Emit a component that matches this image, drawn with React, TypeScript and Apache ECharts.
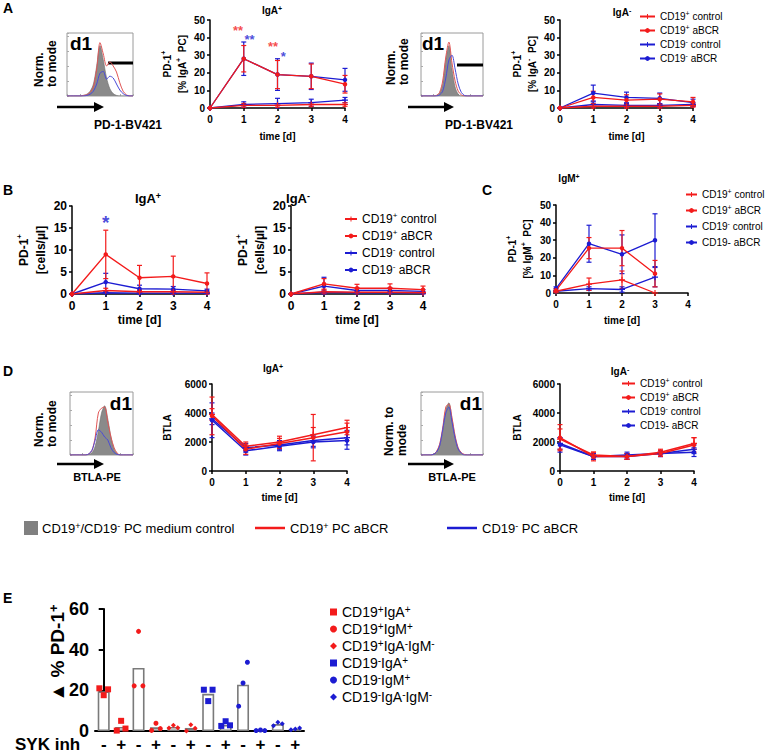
import React, { useEffect, useRef } from 'react';
import * as echarts from 'echarts';

const RED = '#f31b1b';
const BLUE = '#1c1cd2';
const FONT = '"Liberation Sans", Arial, "DejaVu Sans", sans-serif';
const PLUS = 'path://M4,0h2v4h4v2h-4v4h-2v-4h-4v-2h4z';

const days = [0, 1, 2, 3, 4];
const daysC = [0, 1, 2, 3];
const groups = ['CD19+ control', 'CD19+ aBCR', 'CD19- control', 'CD19- aBCR'];

// Panel A, IgA+ : PD-1+ [% IgA+ PC]
const aIgAposMean = [[0, 1.5, 1.5, 2, 2], [0, 28, 19, 18, 13.5], [0, 2, 2.5, 3, 4.5], [0, 28, 19, 18, 16]];
const aIgAposSd = [[0, 1, 1, 1, 1], [0, 7.5, 8, 7, 5], [0, 1.5, 3, 2, 1.5], [0, 9.5, 9, 7.5, 6.5]];
// Panel A, IgA-
const aIgAnegMean = [[0, 1, 1, 1, 1.5], [0, 6, 4.5, 5, 3.5], [0, 2, 1.5, 1.5, 2], [0, 8.5, 6, 5.5, 3]];
const aIgAnegSd = [[0, 1, 1, 1, 1], [0, 3.5, 3, 3, 2.5], [0, 1.5, 1, 1, 1], [0, 4.5, 3, 3, 2]];
// Panel B, IgA+ : PD-1+ [cells/µl]
const bIgAposMean = [[0, 0.8, 0.5, 0.5, 0.4], [0, 9, 3.7, 4, 2.4], [0, 0.3, 0.2, 0.2, 0.2], [0, 2.7, 1.2, 1.1, 0.7]];
const bIgAposSd = [[0, 0.5, 0.3, 0.3, 0.3], [0, 5.5, 2.8, 4.6, 2.4], [0, 0.2, 0.2, 0.2, 0.2], [0, 2, 0.8, 0.6, 0.4]];
// Panel B, IgA-
const bIgAnegMean = [[0, 0.5, 0.4, 0.4, 0.3], [0, 2.3, 1.3, 1.3, 1.0], [0, 0.4, 0.3, 0.3, 0.2], [0, 1.8, 0.8, 0.8, 0.6]];
const bIgAnegSd = [[0, 0.4, 0.3, 0.3, 0.2], [0, 1.2, 0.9, 1, 0.8], [0, 0.3, 0.2, 0.2, 0.2], [0, 2, 0.6, 0.6, 0.4]];
// Panel C, IgM+ : PD-1+ [% IgM+ PC]
const cIgMposMean = [[1, 5, 7.5, 0], [1.5, 25.5, 25.5, 11], [1, 2.5, 2, 9], [2.5, 28, 22, 30]];
const cIgMposSd = [[0.5, 3.5, 5, 0], [1, 6, 10, 7.5], [0.5, 1, 1.5, 5.5], [1, 10.5, 11, 15]];
// Panel D, IgA+ : BTLA
const dIgAposMean = [[3900, 1700, 2000, 2500, 3000], [3800, 1500, 1900, 2300, 2700], [3600, 1600, 1800, 2100, 2300], [3500, 1400, 1700, 2000, 2100]];
const dIgAposSd = [[400, 300, 400, 500, 500], [1300, 350, 350, 1600, 600], [400, 300, 300, 400, 500], [1200, 300, 300, 400, 600]];
// Panel D, IgA-
const dIgAnegMean = [[2200, 1100, 1000, 1300, 1900], [2300, 1000, 1000, 1200, 1800], [1900, 1000, 1000, 1200, 1500], [1800, 1000, 1100, 1200, 1300]];
const dIgAnegSd = [[700, 200, 200, 200, 400], [900, 300, 200, 200, 500], [400, 200, 200, 200, 300], [500, 200, 200, 200, 300]];

// significance marks: [day, value, text, colour]
const starsA: [number, number, string, string][] = [[0.83, 44.3, '**', RED], [1.17, 39.2, '**', BLUE], [1.87, 34.7, '**', RED], [2.17, 29.5, '*', BLUE]];
const starsB: [number, number, string, string][] = [[1, 16.2, '*', BLUE]];

// flow cytometry histograms (normalized to mode)
const histBins = [0, 5, 10, 15, 20, 25, 30, 35, 40, 45, 50, 55, 60, 65, 70, 75, 80, 85, 90, 95, 100];
const histA1Gray = [0, 0, 0, 0, 0, 0.01, 0.03, 0.08, 0.2, 0.5, 0.84, 0.6, 0.3, 0.12, 0.04, 0.01, 0, 0, 0, 0, 0];
const histA1Red = [0, 0, 0, 0, 0, 0.01, 0.02, 0.06, 0.15, 0.45, 0.89, 0.7, 0.5, 0.57, 0.5, 0.4, 0.22, 0.08, 0.02, 0, 0];
const histA1Blue = [0, 0, 0, 0, 0, 0, 0.01, 0.03, 0.08, 0.2, 0.38, 0.41, 0.28, 0.33, 0.3, 0.2, 0.1, 0.04, 0.01, 0, 0];
const histA2Gray = [0, 0, 0, 0, 0, 0.01, 0.05, 0.2, 0.6, 0.84, 0.45, 0.15, 0.03, 0, 0, 0, 0, 0, 0, 0, 0];
const histA2Red = [0, 0, 0, 0, 0, 0.01, 0.06, 0.25, 0.65, 0.9, 0.55, 0.25, 0.08, 0.02, 0, 0, 0, 0, 0, 0, 0];
const histA2Blue = [0, 0, 0, 0, 0, 0, 0.02, 0.08, 0.3, 0.6, 0.68, 0.45, 0.2, 0.06, 0.01, 0, 0, 0, 0, 0, 0];
const histD1Gray = [0, 0, 0, 0, 0, 0, 0.01, 0.04, 0.15, 0.4, 0.7, 0.82, 0.6, 0.3, 0.1, 0.02, 0, 0, 0, 0, 0];
const histD1Red = [0, 0, 0, 0, 0, 0, 0.02, 0.08, 0.3, 0.7, 0.78, 0.8, 0.55, 0.3, 0.12, 0.03, 0, 0, 0, 0, 0];
const histD1Blue = [0, 0, 0, 0, 0, 0, 0.02, 0.08, 0.25, 0.42, 0.38, 0.3, 0.25, 0.12, 0.04, 0.01, 0, 0, 0, 0, 0];
const histD2Gray = [0, 0, 0, 0, 0.01, 0.05, 0.15, 0.4, 0.75, 0.87, 0.6, 0.3, 0.1, 0.03, 0, 0, 0, 0, 0, 0, 0];
const histD2Red = [0, 0, 0, 0, 0.01, 0.06, 0.18, 0.45, 0.8, 0.85, 0.62, 0.32, 0.12, 0.04, 0.01, 0, 0, 0, 0, 0, 0];
const histD2Blue = [0, 0, 0, 0, 0.01, 0.05, 0.15, 0.42, 0.7, 0.8, 0.55, 0.28, 0.1, 0.03, 0, 0, 0, 0, 0, 0, 0];

// Panel E
const eCategories = ['-', '+', '-', '+', '-', '+', '-', '+', '-', '+', '-', '+'];
const eBarMeans = [19.5, 2, 31, 1.8, 2, 1.5, 18.3, 3, 22.8, 0.3, 3.4, 1];
const eSubsets = ['CD19+IgA+', 'CD19+IgM+', 'CD19+IgA-IgM-', 'CD19-IgA+', 'CD19-IgM+', 'CD19-IgA-IgM-'];
const eMinus = [[21, 17.6, 20.5], [22.2, 49, 22.2], [1.5, 2.8, 1.6], [20.3, 14.7, 20.3], [12.2, 23.6, 33.8], [2.6, 4.3, 3.6]];
const ePlus = [[0.2, 5, 1.2], [0.3, 3.8, 1.2], [0, 3.1, 1.3], [2.5, 4.8, 2.8], [0.2, 0.5, 0.2], [0.6, 1, 1.5]];
const eJitter = [-0.25, 0, 0.25];
const eSymbols = ['rect', 'circle', 'diamond', 'rect', 'circle', 'diamond'];
const eSymbolSizes = [6, 5, 5, 6, 5, 5];

const supStyle = (fs: number, bold = true) => ({
  fontSize: Math.max(6, Math.round(fs * 0.68)),
  fontWeight: bold ? 'bold' : 'normal',
  fontFamily: FONT,
  color: '#000',
  verticalAlign: 'top',
  lineHeight: Math.round(fs * 0.7),
});

const errRender = (color: string) => (params: any, api: any) => {
  const x = api.value(0);
  const lo = api.coord([x, api.value(1)]);
  const hi = api.coord([x, api.value(2)]);
  const w = 2.5;
  const style = { stroke: color, lineWidth: 1.2, fill: 'none' };
  return {
    type: 'group',
    children: [
      { type: 'line', shape: { x1: lo[0], y1: lo[1], x2: hi[0], y2: hi[1] }, style },
      { type: 'line', shape: { x1: hi[0] - w, y1: hi[1], x2: hi[0] + w, y2: hi[1] }, style },
      { type: 'line', shape: { x1: lo[0] - w, y1: lo[1], x2: lo[0] + w, y2: lo[1] }, style },
    ],
  };
};

function panelSeries(idx: number, x: number[], means: number[][], sds: number[][], lw: number) {
  const out: any[] = [];
  [2, 3, 0, 1].forEach((g) => {
    const color = g < 2 ? RED : BLUE;
    out.push({
      type: 'custom',
      xAxisIndex: idx,
      yAxisIndex: idx,
      renderItem: errRender(color),
      data: x
        .map((d, i) => [d, Math.max(0, means[g][i] - sds[g][i]), means[g][i] + sds[g][i], sds[g][i]])
        .filter((r) => r[3] > 0),
      encode: { x: 0, y: [1, 2] },
      z: 3,
      silent: true,
    });
    out.push({
      type: 'line',
      name: groups[g],
      xAxisIndex: idx,
      yAxisIndex: idx,
      data: x.map((d, i) => [d, means[g][i]]),
      symbol: g % 2 === 0 ? PLUS : 'circle',
      symbolSize: g % 2 === 0 ? 6 : 4.5,
      itemStyle: { color },
      lineStyle: { color, width: lw },
      z: 4,
      silent: true,
    });
  });
  return out;
}

function starSeries(idx: number, stars: [number, number, string, string][], fs: number) {
  return {
    type: 'scatter',
    xAxisIndex: idx,
    yAxisIndex: idx,
    symbolSize: 1,
    itemStyle: { color: 'rgba(0,0,0,0)' },
    silent: true,
    z: 6,
    data: stars.map((s) => ({
      value: [s[0], s[1]],
      label: {
        show: true,
        position: 'inside',
        formatter: s[2],
        color: s[3],
        fontSize: fs,
        lineHeight: 8,
        fontWeight: 'bold',
        fontFamily: FONT,
      },
    })),
  };
}

function xAxisPanel(idx: number, fs: number, max: number, nameGap: number) {
  return {
    type: 'value',
    gridIndex: idx,
    min: 0,
    max,
    interval: 1,
    axisLine: { onZero: false, lineStyle: { color: '#000', width: 1.5 } },
    axisTick: { length: 3, lineStyle: { color: '#000', width: 1.5 } },
    axisLabel: { color: '#000', fontSize: fs, fontWeight: 'bold', fontFamily: FONT, margin: 6 },
    splitLine: { show: false },
    name: 'time [d]',
    nameLocation: 'middle',
    nameGap,
    nameTextStyle: { color: '#000', fontSize: fs, fontWeight: 'bold', fontFamily: FONT },
  };
}

function yAxisPanel(idx: number, fs: number, max: number, interval: number, name: string, nameGap: number) {
  return {
    type: 'value',
    gridIndex: idx,
    min: 0,
    max,
    interval,
    axisLine: { show: true, onZero: false, lineStyle: { color: '#000', width: 1.5 } },
    axisTick: { show: true, length: 3, lineStyle: { color: '#000', width: 1.5 } },
    axisLabel: {
      color: '#000',
      fontSize: fs,
      fontWeight: 'bold',
      fontFamily: FONT,
      margin: 5,
      formatter: (v: number) => String(v),
    },
    splitLine: { show: false },
    name,
    nameLocation: 'middle',
    nameRotate: 90,
    nameGap,
    nameTextStyle: {
      color: '#000',
      fontSize: fs,
      fontWeight: 'bold',
      fontFamily: FONT,
      lineHeight: Math.round(fs * 1.45),
      rich: { sup: supStyle(fs) },
    },
  };
}

const insetGrids = [
  { left: 67, top: 33, width: 66, height: 63 },
  { left: 421, top: 33, width: 62, height: 63 },
  { left: 70, top: 392, width: 63, height: 63 },
  { left: 421, top: 392, width: 62, height: 63 },
];
const insetData = [
  [histA1Gray, histA1Red, histA1Blue],
  [histA2Gray, histA2Red, histA2Blue],
  [histD1Gray, histD1Red, histD1Blue],
  [histD2Gray, histD2Red, histD2Blue],
];

function legendLabels(plainLast: boolean) {
  return (name: string) => {
    const map: Record<string, string> = {
      'CD19+ control': 'CD19{sup|+} control',
      'CD19+ aBCR': 'CD19{sup|+} aBCR',
      'CD19- control': 'CD19{sup|-} control',
      'CD19- aBCR': plainLast ? 'CD19- aBCR' : 'CD19{sup|-} aBCR',
    };
    return map[name] || name;
  };
}

function panelLegend(left: number, top: number, fs: number, gap: number, itemWidth: number, plainLast: boolean) {
  return {
    left,
    top,
    orient: 'vertical',
    data: groups,
    itemWidth,
    itemHeight: 6,
    itemGap: gap,
    selectedMode: false,
    padding: 0,
    formatter: legendLabels(plainLast),
    textStyle: {
      color: '#000',
      fontSize: fs,
      fontFamily: FONT,
      lineHeight: Math.round(fs * 1.3),
      rich: { sup: supStyle(fs, false) },
    },
  };
}

function gText(x: number, y: number, text: string, fs: number, bold: boolean, align = 'center', extra: any = {}) {
  return {
    type: 'text',
    x,
    y,
    ...extra,
    style: {
      text,
      fill: '#000',
      fontSize: fs,
      fontWeight: bold ? 'bold' : 'normal',
      fontFamily: FONT,
      align,
      verticalAlign: 'middle',
      lineHeight: Math.round(fs * 1.1),
      rich: { sup: { ...supStyle(fs, bold), fill: '#000' } },
    },
  };
}

function arrow(x1: number, x2: number, y: number) {
  return [
    { type: 'line', shape: { x1, y1: y, x2: x2 - 8, y2: y }, style: { stroke: '#000', lineWidth: 2.5 } },
    { type: 'polygon', shape: { points: [[x2 - 10, y - 5], [x2, y], [x2 - 10, y + 5]] }, style: { fill: '#000' } },
  ];
}

function buildOption() {
  const grids: any[] = [
    { left: 210, top: 20, width: 135, height: 88 },
    { left: 560, top: 20, width: 133, height: 88 },
    { left: 72, top: 206, width: 135, height: 88 },
    { left: 291, top: 206, width: 132, height: 88 },
    { left: 556, top: 205, width: 132, height: 88 },
    { left: 212, top: 384, width: 135, height: 87 },
    { left: 560, top: 384, width: 134, height: 87 },
    { left: 95, top: 609, width: 209, height: 122 },
    ...insetGrids.map((g) => ({ ...g, show: true, borderColor: '#9a9a9a', borderWidth: 1, backgroundColor: '#fff' })),
  ];

  const xAxis: any[] = [
    xAxisPanel(0, 10, 4, 23),
    xAxisPanel(1, 10, 4, 23),
    xAxisPanel(2, 12, 4, 20),
    xAxisPanel(3, 12, 4, 20),
    xAxisPanel(4, 10, 4, 22),
    xAxisPanel(5, 10, 4, 21),
    xAxisPanel(6, 10, 4, 21),
    {
      type: 'category',
      gridIndex: 7,
      data: eCategories,
      axisLine: { lineStyle: { color: '#000', width: 2 } },
      axisTick: { alignWithLabel: true, length: 4, lineStyle: { color: '#000', width: 1.5 } },
      axisLabel: { color: '#000', fontSize: 17, fontWeight: 'bold', fontFamily: FONT, margin: 5 },
    },
    { type: 'value', gridIndex: 7, min: -0.5, max: 11.5, show: false },
    ...insetGrids.map((_, i) => ({
      type: 'value',
      gridIndex: 8 + i,
      min: 0,
      max: 100,
      interval: 20,
      axisLine: { show: false },
      axisTick: { show: true, inside: true, length: 2, lineStyle: { color: '#aaa' } },
      axisLabel: { show: false },
      splitLine: { show: false },
    })),
  ];

  const yAxis: any[] = [
    yAxisPanel(0, 10, 50, 10, 'PD-1{sup|+}\n[% IgA{sup|+}  PC]', 19),
    yAxisPanel(1, 10, 50, 10, 'PD-1{sup|+}\n[% IgA{sup|-}  PC]', 19),
    yAxisPanel(2, 12, 20, 5, 'PD-1{sup|+}\n[cells/µl]', 20),
    yAxisPanel(3, 12, 20, 5, 'PD-1{sup|+}\n[cells/µl]', 20),
    yAxisPanel(4, 10, 50, 10, 'PD-1{sup|+}\n[% IgM{sup|+}  PC]', 21),
    yAxisPanel(5, 10, 6000, 2000, 'BTLA', 37),
    yAxisPanel(6, 10, 6000, 2000, 'BTLA', 35),
    {
      type: 'value',
      gridIndex: 7,
      min: 0,
      max: 60,
      interval: 20,
      axisLine: { show: true, lineStyle: { color: '#000', width: 2 } },
      axisTick: { show: true, length: 5, lineStyle: { color: '#000', width: 2 } },
      axisLabel: { color: '#000', fontSize: 18, fontWeight: 'bold', fontFamily: FONT, margin: 6 },
      splitLine: { show: false },
    },
    ...insetGrids.map((_, i) => ({
      type: 'value',
      gridIndex: 8 + i,
      min: 0,
      max: 1.05,
      interval: 0.25,
      axisLine: { show: false },
      axisTick: { show: true, inside: true, length: 2, lineStyle: { color: '#aaa' } },
      axisLabel: { show: false },
      splitLine: { show: false },
    })),
  ];

  const series: any[] = [
    ...panelSeries(0, days, aIgAposMean, aIgAposSd, 1.3),
    ...panelSeries(1, days, aIgAnegMean, aIgAnegSd, 1.3),
    ...panelSeries(2, days, bIgAposMean, bIgAposSd, 1.4),
    ...panelSeries(3, days, bIgAnegMean, bIgAnegSd, 1.4),
    ...panelSeries(4, daysC, cIgMposMean, cIgMposSd, 1.3),
    ...panelSeries(5, days, dIgAposMean, dIgAposSd, 1.5),
    ...panelSeries(6, days, dIgAnegMean, dIgAnegSd, 1.5),
    starSeries(0, starsA, 13),
    starSeries(2, starsB, 19),
  ];

  insetData.forEach((set, i) => {
    const [gray, red, blue] = set;
    const common = { xAxisIndex: 9 + i, yAxisIndex: 8 + i, type: 'line', smooth: 0.3, symbol: 'none', silent: true };
    series.push({ ...common, data: histBins.map((b, k) => [b, gray[k]]), lineStyle: { color: '#6f6f6f', width: 0.6 }, areaStyle: { color: '#8a8a8a', opacity: 1 }, z: 2 });
    series.push({ ...common, data: histBins.map((b, k) => [b, red[k]]), lineStyle: { color: '#e05555', width: 1 }, z: 3 });
    series.push({ ...common, data: histBins.map((b, k) => [b, blue[k]]), lineStyle: { color: '#4a4ad8', width: 1 }, z: 4 });
  });

  series.push({
    type: 'bar',
    xAxisIndex: 7,
    yAxisIndex: 7,
    data: eBarMeans,
    barWidth: 12,
    itemStyle: { color: '#fff', borderColor: '#7a7a7a', borderWidth: 1.6 },
    silent: true,
    z: 2,
  });
  eSubsets.forEach((name, s) => {
    const color = s < 3 ? RED : BLUE;
    const pts: number[][] = [];
    eMinus[s].forEach((v, j) => pts.push([2 * s + eJitter[j], v]));
    ePlus[s].forEach((v, j) => pts.push([2 * s + 1 + eJitter[j], v]));
    series.push({
      type: 'scatter',
      name,
      xAxisIndex: 8,
      yAxisIndex: 7,
      data: pts,
      symbol: eSymbols[s],
      symbolSize: eSymbolSizes[s],
      itemStyle: { color, opacity: 1 },
      silent: true,
      z: 4,
    });
  });

  const eLegendLabel: Record<string, string> = {
    'CD19+IgA+': 'CD19{sup|+}IgA{sup|+}',
    'CD19+IgM+': 'CD19{sup|+}IgM{sup|+}',
    'CD19+IgA-IgM-': 'CD19{sup|+}IgA{sup|-}IgM{sup|-}',
    'CD19-IgA+': 'CD19{sup|-}IgA{sup|+}',
    'CD19-IgM+': 'CD19{sup|-}IgM{sup|+}',
    'CD19-IgA-IgM-': 'CD19{sup|-}IgA{sup|-}IgM{sup|-}',
  };

  const legend: any[] = [
    panelLegend(639, 10, 10, 1, 15, false),
    panelLegend(344, 211, 12, 1, 12, false),
    panelLegend(685, 188, 10, 3, 11, true),
    panelLegend(621, 377, 10, 1, 13, true),
    {
      left: 330,
      top: 604,
      orient: 'vertical',
      data: eSubsets,
      itemWidth: 7,
      itemHeight: 7,
      itemGap: 1,
      padding: 0,
      selectedMode: false,
      formatter: (n: string) => eLegendLabel[n] || n,
      textStyle: { color: '#000', fontSize: 14, fontFamily: FONT, lineHeight: 16, rich: { sup: supStyle(14, false) } },
    },
  ];

  const graphic: any[] = [
    // panel letters
    gText(3, 8, 'A', 14, true, 'left'),
    gText(3, 190, 'B', 14, true, 'left'),
    gText(482, 190, 'C', 14, true, 'left'),
    gText(3, 371, 'D', 14, true, 'left'),
    gText(3, 598, 'E', 14, true, 'left'),
    // panel titles
    gText(272, 10, 'IgA{sup|+}', 10, true),
    gText(622, 12, 'IgA{sup|-}', 10, true),
    gText(148, 198, 'IgA{sup|+}', 13, true),
    gText(298, 198, 'IgA{sup|-}', 13, true),
    gText(569, 178, 'IgM{sup|+}', 10, true),
    gText(273, 368, 'IgA{sup|+}', 10, true),
    gText(620, 371, 'IgA{sup|-}', 10, true),
    // inset decorations
    gText(70, 43, 'd1', 19, true, 'left'),
    gText(422, 43, 'd1', 19, true, 'left'),
    gText(132, 403, 'd1', 19, true, 'right'),
    gText(482, 403, 'd1', 19, true, 'right'),
    { type: 'rect', shape: { x: 108, y: 61.5, width: 25, height: 3 }, style: { fill: '#000' } },
    { type: 'rect', shape: { x: 457, y: 63.5, width: 26, height: 3 }, style: { fill: '#000' } },
    gText(45.5, 87, 'Norm.\nto mode', 12, true, 'left', { rotation: Math.PI / 2 }),
    gText(397.5, 85, 'Norm.\nto mode', 12, true, 'left', { rotation: Math.PI / 2 }),
    gText(45.5, 447, 'Norm.\nto mode', 12, true, 'left', { rotation: Math.PI / 2 }),
    gText(395, 456, 'Norm. to\nmode', 12, true, 'left', { rotation: Math.PI / 2 }),
    ...arrow(57, 104, 107),
    ...arrow(408, 454, 107),
    ...arrow(57, 104, 464),
    ...arrow(408, 454, 464),
    gText(128, 125, 'PD-1-BV421', 12, true),
    gText(479, 125, 'PD-1-BV421', 12, true),
    gText(97, 477, 'BTLA-PE', 11, true),
    gText(452, 477, 'BTLA-PE', 11, true),
    // shared legend strip
    { type: 'rect', shape: { x: 24, y: 521, width: 14, height: 14 }, style: { fill: '#808080' } },
    gText(42, 528, 'CD19{sup|+}/CD19{sup|-} PC medium control', 13, false, 'left'),
    { type: 'line', shape: { x1: 255, y1: 528, x2: 285, y2: 528 }, style: { stroke: RED, lineWidth: 2.5 } },
    gText(290, 528, 'CD19{sup|+} PC aBCR', 13, false, 'left'),
    { type: 'line', shape: { x1: 447, y1: 528, x2: 477, y2: 528 }, style: { stroke: BLUE, lineWidth: 2.5 } },
    gText(482, 528, 'CD19{sup|-} PC aBCR', 13, false, 'left'),
    // panel E axis titles
    gText(15, 744, 'SYK inh', 17, true, 'left'),
    gText(57, 653, '▲ % PD-1{sup|+}', 19, true, 'center', { rotation: Math.PI / 2 }),
  ];

  return {
    animation: false,
    backgroundColor: '#fff',
    textStyle: { fontFamily: FONT },
    grid: grids,
    xAxis,
    yAxis,
    series,
    legend,
    graphic: { elements: graphic },
  };
}

export default function App() {
  const ref = useRef<HTMLDivElement>(null);
  useEffect(() => {
    if (!ref.current) return;
    const chart = echarts.init(ref.current, undefined, { renderer: 'svg', width: 768, height: 755 });
    chart.setOption(buildOption() as any);
    return () => chart.dispose();
  }, []);
  return (
    <div
      ref={ref}
      style={{ position: 'fixed', left: 0, top: 0, width: 768, height: 755, background: '#fff' }}
    />
  );
}
